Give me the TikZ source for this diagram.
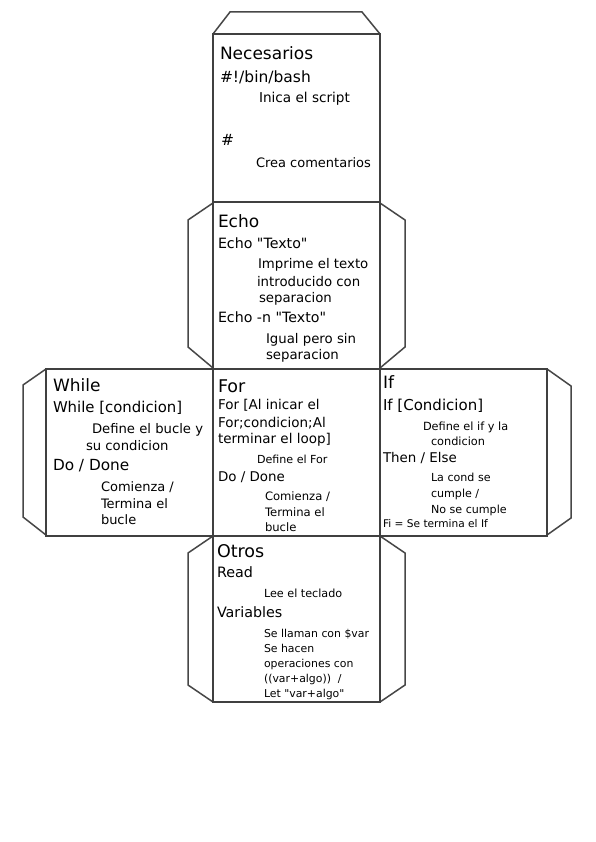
\documentclass[tikz,border=0pt]{standalone}
\usepackage{fontspec}
\setmainfont{DejaVu Sans}[Ligatures=TeXOff]
\tikzset{
  edge/.style={draw=black!75, line width=1.6pt, line join=miter},
  tab/.style={draw=black!72, line width=1.5pt, line join=miter},
  txt/.style={anchor=base west, inner sep=0pt, outer sep=0pt, text=black}
}
\newcommand\lin[5]{\node[txt,font=\fontsize{#4}{#4}\selectfont] (#1) at (#2,#3) {#5};}
\begin{document}
\begin{tikzpicture}[x=1pt,y=-1pt]
\useasboundingbox (0,0) rectangle (595,842);
\fill[white] (0,0) rectangle (595,842);
% tabs
\draw[tab] (213,34) -- (230,12) -- (362,12) -- (380,34);
\draw[tab] (213,203) -- (188,220) -- (188,347) -- (213,368);
\draw[tab] (380,203) -- (405,220) -- (405,347) -- (380,368);
\draw[tab] (46,369) -- (23,385) -- (23,517) -- (46,535);
\draw[tab] (547,369) -- (571,386) -- (571,518) -- (547,535);
\draw[tab] (213,536) -- (188,553) -- (188,685) -- (213,702);
\draw[tab] (380,536) -- (405,553) -- (405,685) -- (380,702);
% faces
\draw[edge] (213,34) rectangle (380,202);
\draw[edge] (213,202) rectangle (380,369);
\draw[edge] (46,369) rectangle (213,536);
\draw[edge] (213,369) rectangle (380,536);
\draw[edge] (380,369) rectangle (547,536);
\draw[edge] (213,536) rectangle (380,702);
% Necesarios
\lin{n1}{220}{60}{17}{Necesarios}
\lin{n2}{220}{83}{15.5}{\#!/bin/bash}
\lin{n3}{259}{103}{13.6}{Inica el script}
\lin{n4}{221}{146}{15.5}{\#}
\lin{n5}{256}{168}{13}{Crea comentarios}
% Echo
\lin{e1}{218}{227}{17}{Echo}
\lin{e2}{218}{248}{14.2}{Echo "Texto"}
\lin{e3}{258}{268}{13.3}{Imprime el texto}
\lin{e4}{257}{286}{13.3}{introducido con}
\lin{e5}{259}{302}{13.3}{separacion}
\lin{e6}{218}{322}{14.2}{Echo -n "Texto"}
\lin{e7}{266}{343}{13.3}{Igual pero sin}
\lin{e8}{266}{359}{13.3}{separacion}
% While
\lin{w1}{53}{391}{17}{While}
\lin{w2}{53}{412}{14.9}{While [condicion]}
\lin{w3}{92}{433}{13.2}{Define el bucle y}
\lin{w4}{86}{450}{13.2}{su condicion}
\lin{w5}{53}{470}{15.3}{Do / Done}
\lin{w6}{101}{491}{13}{Comienza /}
\lin{w7}{101}{508}{13}{Termina el}
\lin{w8}{101}{524}{13}{bucle}
% For
\lin{f1}{218}{392}{17.5}{For}
\lin{f2}{218}{409}{13.5}{For [Al inicar el}
\lin{f3}{218}{427}{13.5}{For;condicion;Al}
\lin{f4}{218}{443}{13.5}{terminar el loop]}
\lin{f5}{257}{463}{11.1}{Define el For}
\lin{f6}{218}{481}{13.4}{Do / Done}
\lin{f7}{265}{500}{11.6}{Comienza /}
\lin{f8}{265}{516}{11.6}{Termina el}
\lin{f9}{265}{531}{11.6}{bucle}
% If
\lin{i1}{383}{388}{17}{If}
\lin{i2}{383}{410}{15}{If [Condicion]}
\lin{i3}{423}{430}{11.3}{Define el if y la}
\lin{i4}{431}{445}{11.3}{condicion}
\lin{i5}{383}{462}{13.4}{Then / Else}
\lin{i6}{431}{481}{11.1}{La cond se}
\lin{i7}{431}{497}{11.1}{cumple /}
\lin{i8}{431}{513}{11.1}{No se cumple}
\lin{i9}{383}{527}{10.6}{Fi = Se termina el If}
% Otros
\lin{o1}{217}{557}{17.5}{Otros}
\lin{o2}{217}{577}{14.3}{Read}
\lin{o3}{264}{597}{11.2}{Lee el teclado}
\lin{o4}{217}{617}{14.3}{Variables}
\lin{o5}{264}{637}{10.9}{Se llaman con \$var}
\lin{o6}{264}{652}{10.9}{Se hacen}
\lin{o7}{264}{667}{10.9}{operaciones con}
\lin{o8}{264}{682}{10.9}{((var+algo))\ \ /}
\lin{o9}{264}{697}{10.9}{Let "var+algo"}
\end{tikzpicture}
\end{document}
